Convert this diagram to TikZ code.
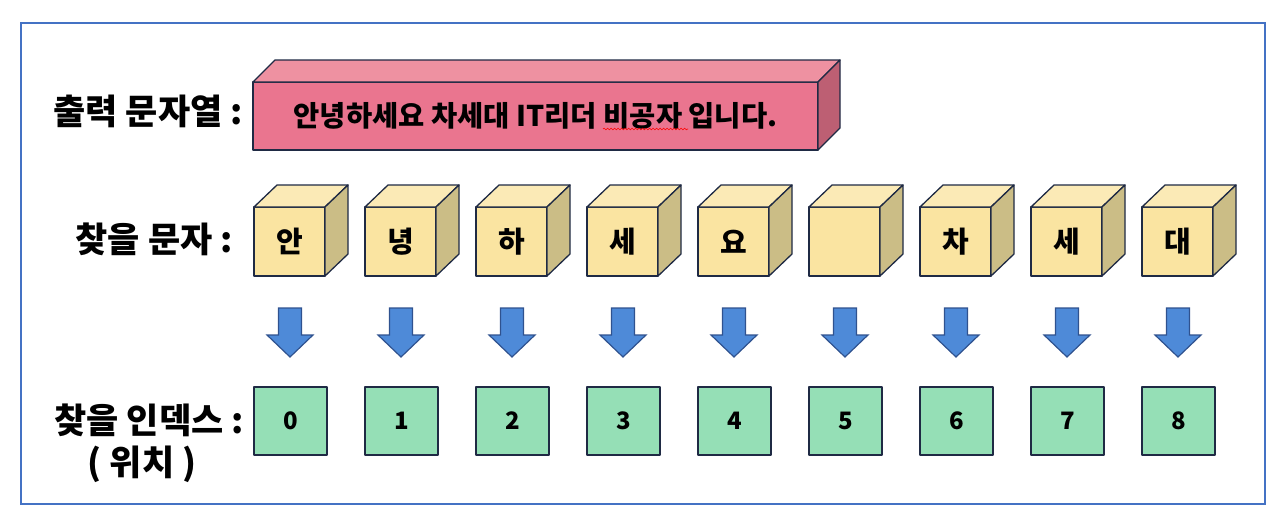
\documentclass[tikz,border=0pt]{standalone}
\usepackage{fontspec}
\usetikzlibrary{decorations.pathmorphing}
\newfontfamily\kor{Noto Sans CJK KR}

\definecolor{navy}{HTML}{1F2A44}
\definecolor{framblue}{HTML}{4472C4}
\definecolor{pinkfront}{HTML}{EA758F}
\definecolor{pinktop}{HTML}{EE91A1}
\definecolor{pinkside}{HTML}{BD5F73}
\definecolor{cubefront}{HTML}{FAE4A1}
\definecolor{cubetop}{HTML}{FBEAB6}
\definecolor{cubeside}{HTML}{CBBD86}
\definecolor{arrowfill}{HTML}{4E8AD8}
\definecolor{arrowline}{HTML}{2F528F}
\definecolor{idxgreen}{HTML}{95DFB6}

\tikzset{
  edge/.style={draw=navy, line width=1.3pt, line join=round},
  lbl/.style={font=\kor\bfseries\fontsize{35}{41}\selectfont, inner sep=0pt},
  bar/.style={edge, fill=pinkfront, minimum width=565pt, minimum height=68pt,
    inner sep=0pt, outer sep=0pt, font=\kor\bfseries\fontsize{28.5}{34}\selectfont},
  front/.style={edge, fill=cubefront, minimum width=71pt, minimum height=69pt,
    inner sep=0pt, outer sep=0pt, font=\kor\bfseries\fontsize{29}{35}\selectfont},
  idx/.style={edge, fill=idxgreen, minimum width=73pt, minimum height=68pt,
    inner sep=0pt, outer sep=0pt, font=\kor\bfseries\fontsize{24}{29}\selectfont},
  blockarrow/.style={draw=arrowline, line width=1.2pt, fill=arrowfill, line join=miter}
}

\begin{document}
\begin{tikzpicture}[x=1pt,y=-1pt]
  \useasboundingbox (0,0) rectangle (1286,528);
  \draw[framblue, line width=1.8pt] (21,23) rectangle (1265,504);

  % output string
  \node[bar] (out) at (535.5,116) {안녕하세요 차세대 IT리더 비공자 입니다.};
  \draw[edge, fill=pinktop] (out.north west) -- ++(22,-22) -- ++(565,0) -- (out.north east) -- cycle;
  \draw[edge, fill=pinkside] (out.north east) -- ++(22,-22) -- ++(0,68) -- (out.south east) -- cycle;
  \draw[red, line width=0.6pt, decorate, decoration={snake, amplitude=0.8pt, segment length=3.5pt}]
       (603,129) -- (688,129);

  % row labels
  \node[lbl, anchor=east] (outlbl) at (243,111) {출력 문자열 :};
  \node[lbl, anchor=east] (chrlbl) at (233,239) {찾을 문자 :};
  \node[lbl, anchor=east] (idxlbl) at (244,420) {찾을 인덱스 :};
  \node[lbl] (poslbl) at (142,464) {( 위치 )};

  % characters, arrows and indices
  \foreach \ch [count=\i from 0] in {안,녕,하,세,요,{},차,세,대} {
    \node[front] (c\i) at (289.5+111*\i,241.5) {\ch};
    \draw[edge, fill=cubetop] (c\i.north west) -- ++(23,-22) -- ++(71,0) -- (c\i.north east) -- cycle;
    \draw[edge, fill=cubeside] (c\i.north east) -- ++(23,-22) -- ++(0,69) -- (c\i.south east) -- cycle;

    \coordinate (a\i) at (290+111*\i,308);
    \draw[blockarrow] (a\i) ++(-11.5,0) -- ++(23,0) -- ++(0,27) -- ++(11.5,0)
         -- ++(-23,22) -- ++(-23,-22) -- ++(11.5,0) -- cycle;

    \node[idx] (n\i) at (290.5+111*\i,421) {\i};
  }
\end{tikzpicture}
\end{document}
